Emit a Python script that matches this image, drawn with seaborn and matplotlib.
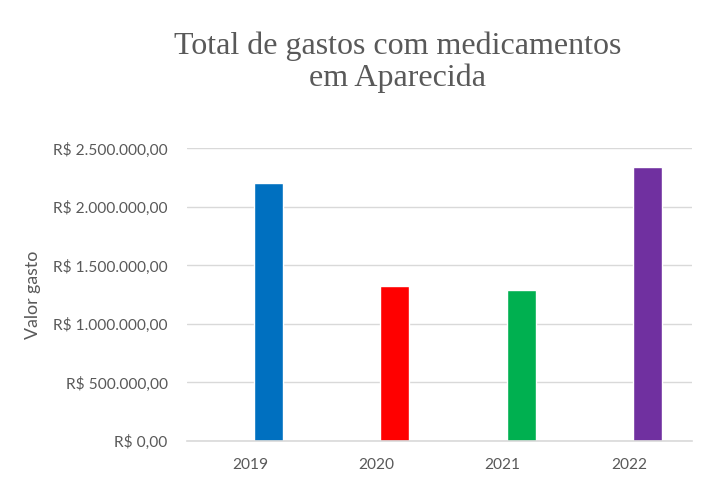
import matplotlib
matplotlib.use("Agg")
import matplotlib.pyplot as plt
import seaborn as sns
import pandas as pd
from matplotlib.ticker import FuncFormatter

anos = ["2019", "2020", "2021", "2022"]
valores = [2206000, 1324000, 1290000, 2340000]
cores = ["#0070C0", "#FF0000", "#00B050", "#7030A0"]
yticks = [0, 500000, 1000000, 1500000, 2000000, 2500000]

df = pd.DataFrame({"Ano": anos, "Valor": valores})

sns.set_theme(style="white")
plt.rcParams["font.family"] = ["Lato", "DejaVu Sans"]

fig = plt.figure(figsize=(7.13, 4.88), dpi=100)
ax = fig.add_axes([0.2623, 0.0963, 0.7082, 0.5997])

sns.barplot(data=df, x="Ano", y="Valor", hue="Ano", palette=cores,
            width=0.23, saturation=1, legend=False, ax=ax)

# Excel-style offset of the bars inside each category
for bar in ax.patches:
    bar.set_x(bar.get_x() + 0.146)

def real(v, pos):
    s = f"{v:,.2f}".replace(",", "X").replace(".", ",").replace("X", ".")
    return "R$ " + s

ax.set_ylim(0, 2500000)
ax.set_xlim(-0.5, 3.5)
ax.set_yticks(yticks)
ax.yaxis.set_major_formatter(FuncFormatter(real))
ax.grid(axis="y", color="#D9D9D9", linewidth=1)
ax.set_axisbelow(True)
for s in ["top", "right", "left"]:
    ax.spines[s].set_visible(False)
ax.spines["bottom"].set_color("#D9D9D9")
ax.spines["bottom"].set_linewidth(1.2)
ax.tick_params(axis="both", length=0, labelsize=11.2, labelcolor="#595959")
ax.tick_params(axis="y", pad=14)
ax.tick_params(axis="x", pad=12)
ax.set_xlabel("")
ax.set_ylabel("Valor gasto", fontsize=12.8, color="#595959")
ax.yaxis.set_label_coords(-0.289, 0.5)

fig.text(0.558, 0.873, "Total de gastos com medicamentos\nem Aparecida",
         ha="center", va="center", fontsize=23, color="#595959",
         family=["Liberation Serif"], linespacing=1.1)

fig.savefig("out.png", dpi=100)
